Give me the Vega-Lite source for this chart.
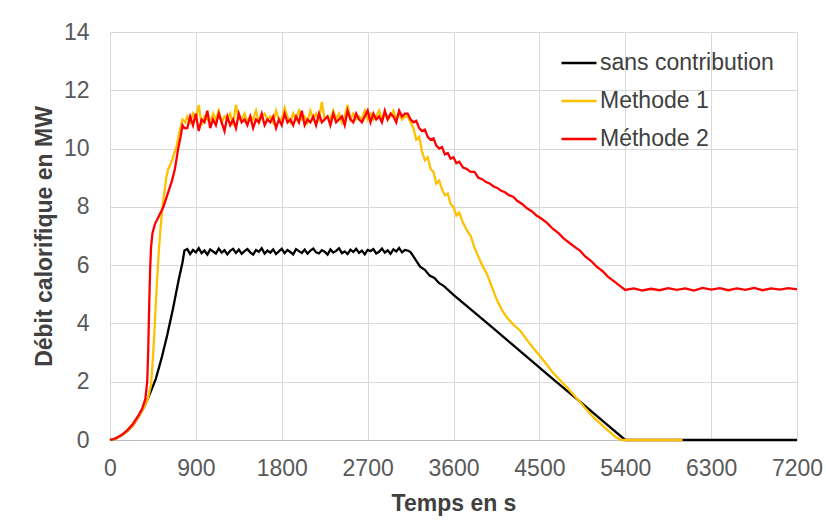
{
 "$schema": "https://vega.github.io/schema/vega-lite/v6.json",
 "width": 687, "height": 408,
 "autosize": {"type": "none"},
 "padding": {"left": 110, "top": 32, "right": 29, "bottom": 89},
 "background": "white",
 "config": {"font": "Liberation Sans", "view": {"stroke": null},
  "legend": {"orient": "none", "legendX": 450, "legendY": 12, "title": null, "symbolType": "stroke", "symbolSize": 1225, "symbolStrokeWidth": 2.5, "labelFontSize": 23, "labelLimit": 400, "labelColor": "#404040", "labelOffset": 2, "rowPadding": 7}},
 "encoding": {
  "x": {"field": "t", "type": "quantitative", "scale": {"domain": [0, 7200], "nice": false},
   "axis": {"values": [0, 900, 1800, 2700, 3600, 4500, 5400, 6300, 7200], "format": "d", "title": "Temps en s", "grid": true, "gridColor": "#d9d9d9", "domainColor": "#bfbfbf", "ticks": false, "tickSize": 0, "labelPadding": 17, "labelFlush": false, "labelOverlap": false, "labelFontSize": 23, "labelColor": "#595959", "titleFontSize": 23, "titleFontWeight": "bold", "titleColor": "#404040", "titleX": 343.5, "titleY": 63, "titleBaseline": "middle", "titleAlign": "center"}},
  "y": {"field": "v", "type": "quantitative", "scale": {"domain": [0, 14], "nice": false},
   "axis": {"values": [0, 2, 4, 6, 8, 10, 12, 14], "title": "Débit calorifique en MW", "grid": true, "gridColor": "#d9d9d9", "domain": false, "ticks": false, "tickSize": 0, "labelPadding": 21, "labelFlush": false, "labelOverlap": false, "labelFontSize": 23, "labelColor": "#595959", "titleFontSize": 23, "titleFontWeight": "bold", "titleColor": "#404040", "titleX": -66, "titleY": 204, "titleAngle": -90, "titleBaseline": "middle", "titleAlign": "center"}}
 },
 "layer": [
  {"data": {"values": [
   {"t":0,"v":0},{"t":60,"v":0.05},{"t":120,"v":0.15},{"t":180,"v":0.3},{"t":240,"v":0.5},{"t":300,"v":0.8},{"t":360,"v":1.15},{"t":420,"v":1.6},{"t":480,"v":2.1},{"t":540,"v":2.8},{"t":600,"v":3.6},{"t":660,"v":4.5},{"t":720,"v":5.5},{"t":760,"v":6.1},{"t":780,"v":6.5},
   {"t":810,"v":6.55},{"t":840,"v":6.38},{"t":870,"v":6.52},{"t":900,"v":6.44},{"t":930,"v":6.58},{"t":960,"v":6.41},{"t":990,"v":6.50},{"t":1020,"v":6.36},{"t":1050,"v":6.54},{"t":1080,"v":6.47},
   {"t":1110,"v":6.40},{"t":1140,"v":6.57},{"t":1170,"v":6.43},{"t":1200,"v":6.51},{"t":1230,"v":6.37},{"t":1260,"v":6.49},{"t":1290,"v":6.56},{"t":1320,"v":6.42},{"t":1350,"v":6.53},{"t":1380,"v":6.39},
   {"t":1410,"v":6.48},{"t":1440,"v":6.55},{"t":1470,"v":6.44},{"t":1500,"v":6.36},{"t":1530,"v":6.52},{"t":1560,"v":6.46},{"t":1590,"v":6.58},{"t":1620,"v":6.40},{"t":1650,"v":6.50},{"t":1680,"v":6.43},
   {"t":1710,"v":6.54},{"t":1740,"v":6.38},{"t":1770,"v":6.47},{"t":1800,"v":6.56},{"t":1830,"v":6.41},{"t":1860,"v":6.52},{"t":1890,"v":6.45},{"t":1920,"v":6.37},{"t":1950,"v":6.55},{"t":1980,"v":6.48},
   {"t":2010,"v":6.42},{"t":2040,"v":6.53},{"t":2070,"v":6.39},{"t":2100,"v":6.50},{"t":2130,"v":6.57},{"t":2160,"v":6.44},{"t":2190,"v":6.40},{"t":2220,"v":6.51},{"t":2250,"v":6.46},{"t":2280,"v":6.36},
   {"t":2310,"v":6.54},{"t":2340,"v":6.43},{"t":2370,"v":6.49},{"t":2400,"v":6.58},{"t":2430,"v":6.41},{"t":2460,"v":6.47},{"t":2490,"v":6.38},{"t":2520,"v":6.53},{"t":2550,"v":6.45},{"t":2580,"v":6.56},
   {"t":2610,"v":6.42},{"t":2640,"v":6.50},{"t":2670,"v":6.37},{"t":2700,"v":6.52},{"t":2730,"v":6.48},{"t":2760,"v":6.55},{"t":2790,"v":6.40},{"t":2820,"v":6.46},{"t":2850,"v":6.57},{"t":2880,"v":6.43},
   {"t":2910,"v":6.51},{"t":2940,"v":6.39},{"t":2970,"v":6.54},{"t":3000,"v":6.47},{"t":3030,"v":6.59},{"t":3060,"v":6.44},{"t":3090,"v":6.52},
   {"t":3120,"v":6.5},{"t":3150,"v":6.45},{"t":3200,"v":6.2},{"t":3250,"v":5.95},{"t":3300,"v":5.84},{"t":3350,"v":5.64},{"t":3400,"v":5.56},{"t":3450,"v":5.38},{"t":3500,"v":5.28},{"t":3600,"v":4.98},
   {"t":3800,"v":4.43},{"t":4000,"v":3.88},{"t":4200,"v":3.32},{"t":4400,"v":2.77},{"t":4600,"v":2.21},{"t":4800,"v":1.66},{"t":5000,"v":1.11},{"t":5200,"v":0.55},{"t":5400,"v":0},{"t":7200,"v":0}
  ]},
   "mark": {"type": "line", "strokeWidth": 2.3}, "encoding": {"color": {"datum": "sans contribution", "type": "nominal", "scale": {"domain": ["sans contribution", "Methode 1", "Méthode 2"], "range": ["#000000", "#FFC000", "#FF0000"]}}}},
  {"data": {"values": [
   {"t":0,"v":0},{"t":60,"v":0.05},{"t":120,"v":0.15},{"t":180,"v":0.3},{"t":240,"v":0.5},{"t":300,"v":0.8},{"t":360,"v":1.15},{"t":400,"v":1.45},{"t":430,"v":1.9},{"t":450,"v":2.8},{"t":470,"v":4.0},{"t":490,"v":5.3},{"t":510,"v":6.4},{"t":530,"v":7.3},{"t":550,"v":8.0},{"t":570,"v":8.5},{"t":590,"v":9.0},{"t":610,"v":9.3},{"t":640,"v":9.5},{"t":670,"v":9.8},{"t":700,"v":10.1},{"t":730,"v":10.6},{"t":760,"v":11.0},{"t":790,"v":10.9},
   {"t":810,"v":11.1},{"t":840,"v":10.9},{"t":870,"v":11.2},{"t":900,"v":11.0},{"t":930,"v":11.5},{"t":960,"v":10.8},{"t":990,"v":11.1},{"t":1020,"v":11.0},{"t":1050,"v":10.9},{"t":1080,"v":11.2},
   {"t":1110,"v":11.0},{"t":1140,"v":11.3},{"t":1170,"v":10.9},{"t":1200,"v":11.1},{"t":1230,"v":11.0},{"t":1260,"v":11.2},{"t":1290,"v":10.8},{"t":1320,"v":11.5},{"t":1350,"v":11.0},{"t":1380,"v":11.0},
   {"t":1410,"v":11.2},{"t":1440,"v":10.9},{"t":1470,"v":11.1},{"t":1500,"v":11.0},{"t":1530,"v":11.3},{"t":1560,"v":10.9},{"t":1590,"v":11.1},{"t":1620,"v":11.2},{"t":1650,"v":11.0},{"t":1680,"v":11.1},
   {"t":1710,"v":10.9},{"t":1740,"v":11.3},{"t":1770,"v":11.0},{"t":1800,"v":11.0},{"t":1830,"v":11.4},{"t":1860,"v":11.1},{"t":1890,"v":10.9},{"t":1920,"v":11.2},{"t":1950,"v":11.0},{"t":1980,"v":11.3},
   {"t":2010,"v":11.0},{"t":2040,"v":11.1},{"t":2070,"v":10.9},{"t":2100,"v":11.3},{"t":2130,"v":11.0},{"t":2160,"v":11.2},{"t":2190,"v":11.0},{"t":2220,"v":11.6},{"t":2250,"v":11.0},{"t":2280,"v":11.1},
   {"t":2310,"v":11.0},{"t":2340,"v":11.3},{"t":2370,"v":11.0},{"t":2400,"v":11.2},{"t":2430,"v":10.9},{"t":2460,"v":11.1},{"t":2490,"v":11.5},{"t":2520,"v":11.0},{"t":2550,"v":11.2},{"t":2580,"v":11.0},
   {"t":2610,"v":11.1},{"t":2640,"v":11.0},{"t":2670,"v":11.3},{"t":2700,"v":11.0},{"t":2730,"v":11.2},{"t":2760,"v":11.0},{"t":2790,"v":11.1},{"t":2820,"v":11.3},{"t":2850,"v":11.0},{"t":2880,"v":11.2},
   {"t":2910,"v":11.0},{"t":2940,"v":11.1},{"t":2970,"v":11.3},{"t":3000,"v":11.0},{"t":3030,"v":11.2},{"t":3060,"v":11.0},{"t":3090,"v":11.1},
   {"t":3120,"v":11.1},{"t":3150,"v":10.9},{"t":3180,"v":10.7},{"t":3210,"v":10.3},{"t":3240,"v":10.4},{"t":3270,"v":9.9},{"t":3300,"v":9.6},{"t":3330,"v":9.7},{"t":3360,"v":9.3},{"t":3390,"v":9.2},{"t":3420,"v":8.8},{"t":3450,"v":8.9},{"t":3480,"v":8.6},{"t":3510,"v":8.4},{"t":3540,"v":8.45},{"t":3570,"v":8.1},{"t":3600,"v":8.0},{"t":3630,"v":7.7},{"t":3660,"v":7.8},{"t":3700,"v":7.45},{"t":3740,"v":7.2},{"t":3780,"v":7.0},{"t":3820,"v":6.6},{"t":3860,"v":6.3},{"t":3900,"v":6.0},{"t":3950,"v":5.7},{"t":3985,"v":5.4},{"t":4055,"v":4.8},{"t":4110,"v":4.45},{"t":4160,"v":4.2},{"t":4230,"v":3.95},{"t":4300,"v":3.75},{"t":4400,"v":3.3},{"t":4475,"v":3.0},{"t":4550,"v":2.7},{"t":4645,"v":2.3},{"t":4790,"v":1.8},{"t":4900,"v":1.4},{"t":5060,"v":0.8},{"t":5200,"v":0.38},{"t":5300,"v":0.1},{"t":5360,"v":0},{"t":6000,"v":0}
  ]},
   "mark": {"type": "line", "strokeWidth": 2.3}, "encoding": {"color": {"datum": "Methode 1", "type": "nominal"}}},
  {"data": {"values": [
   {"t":0,"v":0},{"t":60,"v":0.06},{"t":120,"v":0.17},{"t":180,"v":0.33},{"t":240,"v":0.55},{"t":300,"v":0.85},{"t":340,"v":1.1},{"t":370,"v":1.4},{"t":390,"v":2.0},{"t":400,"v":3.0},{"t":410,"v":4.5},{"t":420,"v":5.8},{"t":430,"v":6.6},{"t":445,"v":7.1},{"t":470,"v":7.4},{"t":500,"v":7.6},{"t":530,"v":7.8},{"t":560,"v":8.0},{"t":590,"v":8.3},{"t":620,"v":8.6},{"t":650,"v":8.9},{"t":680,"v":9.3},{"t":700,"v":9.7},{"t":715,"v":10.0},{"t":740,"v":10.4},{"t":760,"v":10.8},{"t":780,"v":10.7},
   {"t":810,"v":10.7},{"t":840,"v":11.1},{"t":870,"v":10.8},{"t":900,"v":11.2},{"t":930,"v":10.6},{"t":960,"v":11.0},{"t":990,"v":10.9},{"t":1020,"v":11.3},{"t":1050,"v":10.7},{"t":1080,"v":11.0},
   {"t":1110,"v":10.8},{"t":1140,"v":11.2},{"t":1170,"v":10.9},{"t":1200,"v":10.6},{"t":1230,"v":11.1},{"t":1260,"v":10.8},{"t":1290,"v":11.0},{"t":1320,"v":10.7},{"t":1350,"v":11.2},{"t":1380,"v":10.9},
   {"t":1410,"v":11.0},{"t":1440,"v":10.8},{"t":1470,"v":11.1},{"t":1500,"v":10.7},{"t":1530,"v":11.0},{"t":1560,"v":10.9},{"t":1590,"v":11.2},{"t":1620,"v":10.8},{"t":1650,"v":11.0},{"t":1680,"v":10.9},
   {"t":1710,"v":11.1},{"t":1740,"v":10.7},{"t":1770,"v":11.0},{"t":1800,"v":10.8},{"t":1830,"v":11.2},{"t":1860,"v":10.9},{"t":1890,"v":11.0},{"t":1920,"v":10.8},{"t":1950,"v":11.1},{"t":1980,"v":10.9},
   {"t":2010,"v":11.3},{"t":2040,"v":10.8},{"t":2070,"v":11.0},{"t":2100,"v":10.9},{"t":2130,"v":11.1},{"t":2160,"v":10.8},{"t":2190,"v":11.2},{"t":2220,"v":10.9},{"t":2250,"v":11.0},{"t":2280,"v":11.1},
   {"t":2310,"v":10.8},{"t":2340,"v":11.2},{"t":2370,"v":10.9},{"t":2400,"v":11.0},{"t":2430,"v":11.1},{"t":2460,"v":10.8},{"t":2490,"v":11.3},{"t":2520,"v":11.0},{"t":2550,"v":10.9},{"t":2580,"v":11.2},
   {"t":2610,"v":11.0},{"t":2640,"v":10.9},{"t":2670,"v":11.1},{"t":2700,"v":11.3},{"t":2730,"v":10.9},{"t":2760,"v":11.2},{"t":2790,"v":11.0},{"t":2820,"v":11.1},{"t":2850,"v":10.9},{"t":2880,"v":11.3},
   {"t":2910,"v":11.0},{"t":2940,"v":11.2},{"t":2970,"v":11.1},{"t":3000,"v":10.9},{"t":3030,"v":11.3},{"t":3060,"v":11.1},{"t":3090,"v":11.2},
   {"t":3120,"v":11.2},{"t":3150,"v":11.0},{"t":3180,"v":10.9},{"t":3210,"v":10.95},{"t":3240,"v":10.7},{"t":3270,"v":10.6},{"t":3300,"v":10.65},{"t":3330,"v":10.4},{"t":3360,"v":10.3},{"t":3390,"v":10.35},{"t":3420,"v":10.1},{"t":3450,"v":10.0},{"t":3480,"v":10.05},{"t":3510,"v":9.8},{"t":3540,"v":9.85},{"t":3570,"v":9.65},{"t":3600,"v":9.7},{"t":3630,"v":9.5},{"t":3660,"v":9.55},{"t":3700,"v":9.35},{"t":3740,"v":9.3},{"t":3780,"v":9.2},{"t":3820,"v":9.2},{"t":3860,"v":9.0},{"t":3900,"v":8.95},{"t":3940,"v":8.85},{"t":3980,"v":8.8},{"t":4020,"v":8.7},{"t":4060,"v":8.65},{"t":4100,"v":8.55},{"t":4140,"v":8.5},{"t":4180,"v":8.4},{"t":4225,"v":8.35},{"t":4270,"v":8.2},{"t":4320,"v":8.1},{"t":4370,"v":7.95},{"t":4420,"v":7.85},{"t":4470,"v":7.7},{"t":4520,"v":7.6},{"t":4580,"v":7.45},{"t":4640,"v":7.25},{"t":4700,"v":7.1},{"t":4760,"v":6.9},{"t":4820,"v":6.75},{"t":4880,"v":6.6},{"t":4925,"v":6.5},{"t":4980,"v":6.3},{"t":5040,"v":6.15},{"t":5100,"v":5.95},{"t":5160,"v":5.8},{"t":5220,"v":5.6},{"t":5280,"v":5.45},{"t":5340,"v":5.3},{"t":5400,"v":5.15},
   {"t":5490,"v":5.2},{"t":5580,"v":5.13},{"t":5670,"v":5.19},{"t":5760,"v":5.14},{"t":5850,"v":5.21},{"t":5940,"v":5.15},{"t":6030,"v":5.2},{"t":6120,"v":5.13},{"t":6210,"v":5.22},{"t":6300,"v":5.16},{"t":6390,"v":5.21},{"t":6480,"v":5.14},{"t":6570,"v":5.2},{"t":6660,"v":5.15},{"t":6750,"v":5.22},{"t":6840,"v":5.14},{"t":6930,"v":5.2},{"t":7020,"v":5.16},{"t":7110,"v":5.21},{"t":7200,"v":5.17}
  ]},
   "mark": {"type": "line", "strokeWidth": 2.3}, "encoding": {"color": {"datum": "Méthode 2", "type": "nominal"}}}
 ]
}
